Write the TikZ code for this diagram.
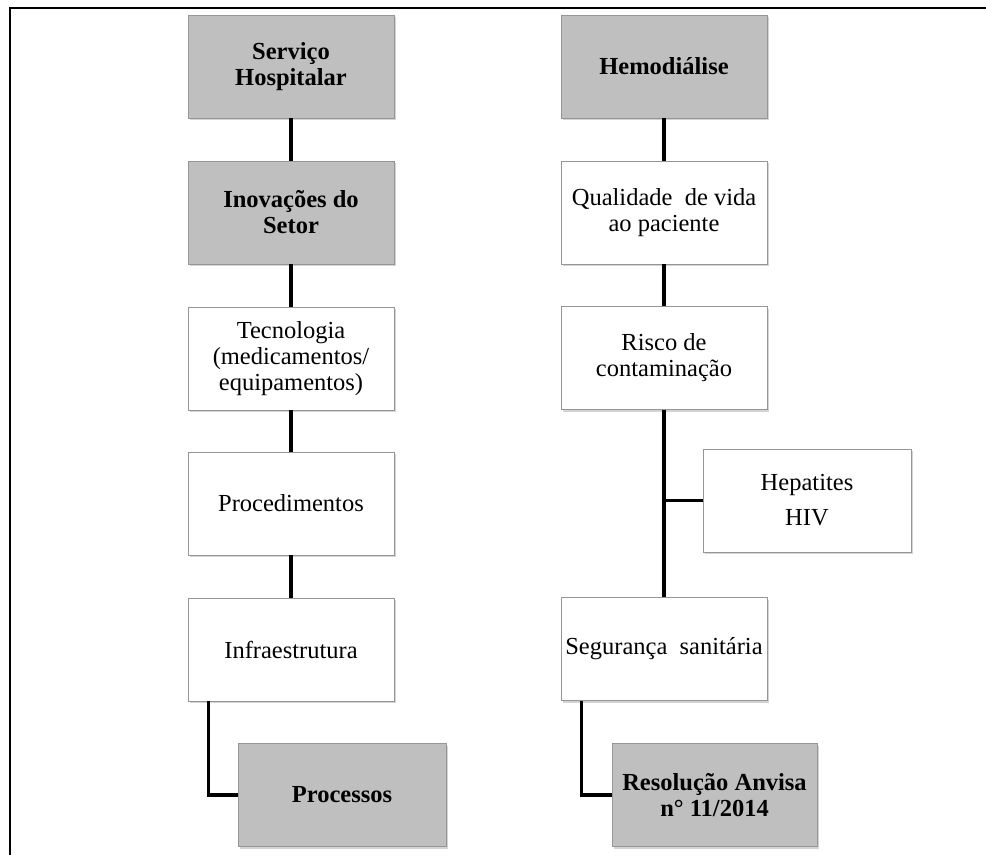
\documentclass[tikz,border=0pt]{standalone}
\usepackage{fontspec}
\setmainfont{Liberation Serif}
\usetikzlibrary{shadows,calc}
\definecolor{boxgray}{RGB}{191,191,191}
\definecolor{edgegray}{RGB}{150,150,150}
\begin{document}
\begin{tikzpicture}[x=1pt,y=-1pt,
  base/.style={draw=edgegray, line width=0.8pt, minimum height=103pt, align=center,
    inner sep=2pt, font=\fontsize{24.5}{26}\selectfont,
    drop shadow={opacity=0.35, shadow xshift=1.5pt, shadow yshift=-2pt, fill=gray}},
  graybox/.style={base, fill=boxgray, font=\fontsize{24.5}{26}\selectfont\bfseries},
  whitebox/.style={base, fill=white},
  conn/.style={line width=3.5pt, black}]
\useasboundingbox (0,0) rectangle (986,855);
\draw[line width=2pt] (10,855) -- (10,7.5) -- (986,7.5);

% left column
\node[graybox, minimum width=206pt] (serv) at (291,66.5) {Serviço\\Hospitalar};
\node[graybox, minimum width=206pt] (inov) at (291,212.5) {Inovações do\\Setor};
\node[whitebox, minimum width=206pt] (tec) at (291,358.5) {Tecnologia\\(medicamentos/\\equipamentos)};
\node[whitebox, minimum width=206pt] (proc) at (291,503.5) {Procedimentos};
\node[whitebox, minimum width=206pt] (infra) at (291,649.5) {Infraestrutura};
\node[graybox, minimum width=208pt] (processos) at (342,795) {Processos};

% right column
\node[graybox, minimum width=206pt] (hemo) at (664,66.5) {Hemodiálise};
\node[whitebox, minimum width=206pt] (qual) at (664,212.5) {Qualidade~ de vida\\ao paciente};
\node[whitebox, minimum width=206pt] (risco) at (664,358) {Risco de\\contaminação};
\node[whitebox, minimum width=208pt, font=\fontsize{24.5}{35}\selectfont] (hep) at (807,500.5) {Hepatites\\HIV};
\node[whitebox, minimum width=206pt] (seg) at (664,649) {Segurança~ sanitária};
\node[graybox, minimum width=205pt] (resol) at (714.5,795) {Resolução Anvisa\\n° 11/2014};

% connectors
\draw[conn] (serv) -- (inov);
\draw[conn] (inov) -- (tec);
\draw[conn] (tec) -- (proc);
\draw[conn] (proc) -- (infra);
\coordinate (infraout) at ($(infra.south west)+(21,0)$);
\draw[conn] (infraout) |- (processos.west);

\draw[conn] (hemo) -- (qual);
\draw[conn] (qual) -- (risco);
\draw[conn] (risco) -- (seg);
\draw[conn] (hep.west) -- (hep.west -| risco.south);
\coordinate (segout) at ($(seg.south west)+(21,0)$);
\draw[conn] (segout) |- (resol.west);
\end{tikzpicture}
\end{document}
